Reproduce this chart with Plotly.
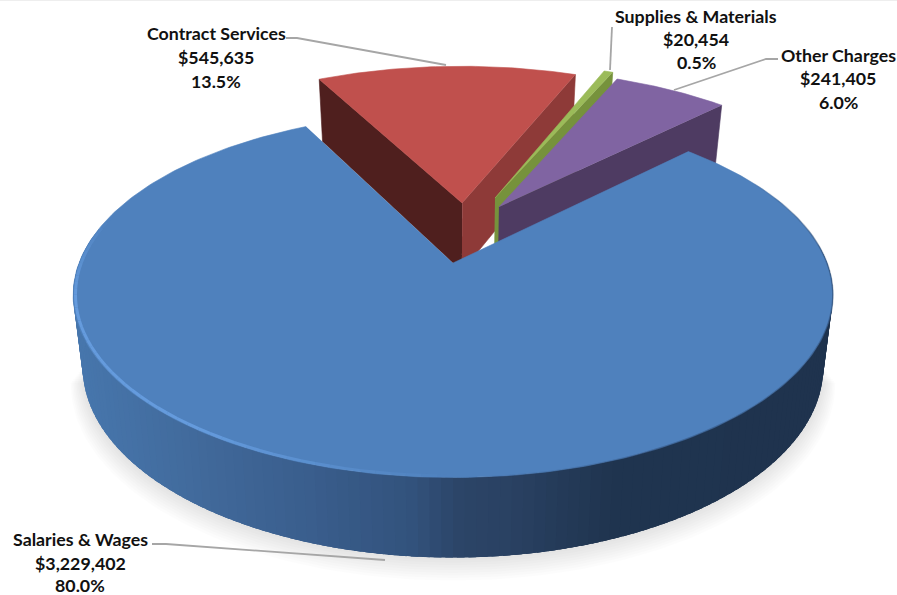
import numpy as np
import plotly.graph_objects as go

# ---- data ----
categories = ["Salaries & Wages", "Contract Services", "Supplies & Materials", "Other Charges"]
amounts = [3229402, 545635, 20454, 241405]
percent_labels = ["80.0%", "13.5%", "0.5%", "6.0%"]

# ---- style ----
top_colors = ["#4F81BD", "#C0504D", "#9BBB59", "#8064A2"]
right_face = [None, "#8E3A38", "#76923C", "#4E3B62"]
left_face = [None, "#4F1F1E", None, None]
explode = [(0.0, 0.0), (0.026, 0.36), (0.12, 0.392), (0.13, 0.335)]
radius = [1.0, 1.02, 1.02, 1.02]
start_angle = 45.0
CX, CY, A, B, K = 453.0, 263.0, 374.0, 177.0, 0.175
SHRINK = 0.975
label_pos = {0: (80, [539, 563, 585]), 1: (216, [33, 57, 81]),
             2: (696, [16, 39, 62]), 3: (838, [55, 78, 102])}
leaders = [([152, 166, 385], [544, 544, 560]), ([286, 297, 446], [38, 38, 65]),
           ([612, 610], [27, 70]), ([778, 766, 674], [59, 59, 90])]
side_stops_x = [80, 200, 300, 400, 450, 500, 600, 830]
side_stops_c = ["#4776AC", "#41699A", "#3A5E8D", "#33537D", "#2C4568", "#2A4263", "#203550", "#1F334E"]


def depth(w):
    return 70.8 / w ** 0.64


def proj(X, Y, bottom=False):
    X, Y = np.asarray(X, float), np.asarray(Y, float)
    w = 1 + K * Y
    sx = A * X / w
    sy = -B * Y / w
    if bottom:
        sx = sx * SHRINK
        sy = sy + depth(w)
    return CX + sx, CY + sy


def circ(deg, off=(0, 0), r=1.0):
    t = np.radians(deg)
    return off[0] + r * np.sin(t), off[1] + r * np.cos(t)


def hex_rgb(h):
    return np.array([int(h[i:i + 2], 16) for i in (1, 3, 5)], float)


def side_color(x):
    rgb = np.array([hex_rgb(c) for c in side_stops_c])
    v = [np.interp(x, side_stops_x, rgb[:, i]) for i in range(3)]
    return "rgb(%d,%d,%d)" % tuple(v)


fig = go.Figure()


def poly(xs, ys, color, line=None, width=0.6):
    fig.add_trace(go.Scatter(x=np.round(xs, 2), y=np.round(ys, 2), mode="lines", fill="toself",
                             fillcolor=color, line=dict(color=line or color, width=width),
                             hoverinfo="skip", showlegend=False))


def stroke(xs, ys, color, width):
    fig.add_trace(go.Scatter(x=np.round(xs, 2), y=np.round(ys, 2), mode="lines",
                             line=dict(color=color, width=width), hoverinfo="skip", showlegend=False))


total = sum(amounts)
edges = start_angle + 360 * np.concatenate([[0], np.cumsum(amounts)]) / total

# faint line along the top of the picture
stroke([0, 897], [0.5, 0.5], "#EEEEEE", 1)

# soft shadow under the pie
for i in range(9, 0, -1):
    deg = np.linspace(100, 260, 120)
    X, Y = circ(deg, r=1 + 0.0035 * i)
    sx, sy = proj(X, Y, bottom=True)
    sy = sy + 1.6 * i
    poly(sx, sy, "rgba(0,0,0,0.013)", "rgba(0,0,0,0)", 0)


def radial_face(i, deg, color):
    off = explode[i]
    X, Y = circ(deg, off, radius[i])
    ax, ay = proj(*off)
    bx, by = proj(*off, bottom=True)
    ox, oy = proj(X, Y)
    px, py = proj(X, Y, bottom=True)
    poly([ax, ox, px, bx], [ay, oy, py, by], color)


# back wedges, drawn back to front
for i in (1, 2, 3):
    a0, a1 = edges[i], edges[i + 1]
    if left_face[i]:
        radial_face(i, a0, left_face[i])
    radial_face(i, a1, right_face[i])
    off = explode[i]
    deg = np.linspace(a0, a1, 60)
    X, Y = circ(deg, off, radius[i])
    sx, sy = proj(X, Y)
    ax, ay = proj(*off)
    poly(np.r_[ax, sx], np.r_[ay, sy], top_colors[i])

# outer wall of the big slice, shaded across its width (segments overlap to hide seams)
for d in np.arange(84, 278, 1.5):
    deg = np.linspace(d, d + 4, 5)
    X, Y = circ(deg)
    tx, ty = proj(X, Y)
    bx, by = proj(X, Y, bottom=True)
    col = side_color(tx.mean())
    poly(np.r_[tx, bx[::-1]], np.r_[ty, by[::-1]], col, width=0)

# top of the big slice
deg = np.linspace(edges[0], edges[1], 300)
X, Y = circ(deg)
sx, sy = proj(X, Y)
ax, ay = proj(0, 0)
poly(np.r_[ax, sx], np.r_[ay, sy], top_colors[0])

# rim: highlight on the lit side, dark edge on the shaded side
for d in np.arange(178, 290, 2.0):
    deg = np.array([d, d + 2.0])
    X, Y = circ(deg, r=0.994)
    sx, sy = proj(X, Y)
    alpha = np.interp(d, [178, 215, 258, 285], [0.0, 0.75, 0.75, 0.0])
    stroke(sx, sy, "rgba(108,164,232,%.2f)" % alpha, 3)
for d in np.arange(55, 178, 2.0):
    deg = np.array([d, d + 2.0])
    X, Y = circ(deg)
    sx, sy = proj(X, Y)
    alpha = np.interp(d, [55, 80, 150, 178], [0.0, 0.4, 0.4, 0.0])
    stroke(sx, sy, "rgba(38,62,98,%.2f)" % alpha, 1.6)

# leader lines
for lx, ly in leaders:
    stroke(lx, ly, "#A6A6A6", 1.8)

annotations = []
for i, name in enumerate(categories):
    x0, ys = label_pos[i]
    for txt, y in zip([name, "${:,}".format(amounts[i]), percent_labels[i]], ys):
        annotations.append(dict(x=x0, y=y, xref="x", yref="y", text="<b>%s</b>" % txt, showarrow=False,
                                xanchor="center", yanchor="middle",
                                font=dict(family="Lato", size=17.8, color="#111111")))

fig.update_layout(
    width=897, height=595, margin=dict(l=0, r=0, t=0, b=0, pad=0),
    paper_bgcolor="white", plot_bgcolor="white", showlegend=False,
    xaxis=dict(range=[0, 897], visible=False, fixedrange=True),
    yaxis=dict(range=[595, 0], visible=False, fixedrange=True),
    annotations=annotations,
)
fig.write_html("out.html", config={"displayModeBar": False},
               post_script="document.body.style.margin='0';document.body.style.overflow='hidden';")
